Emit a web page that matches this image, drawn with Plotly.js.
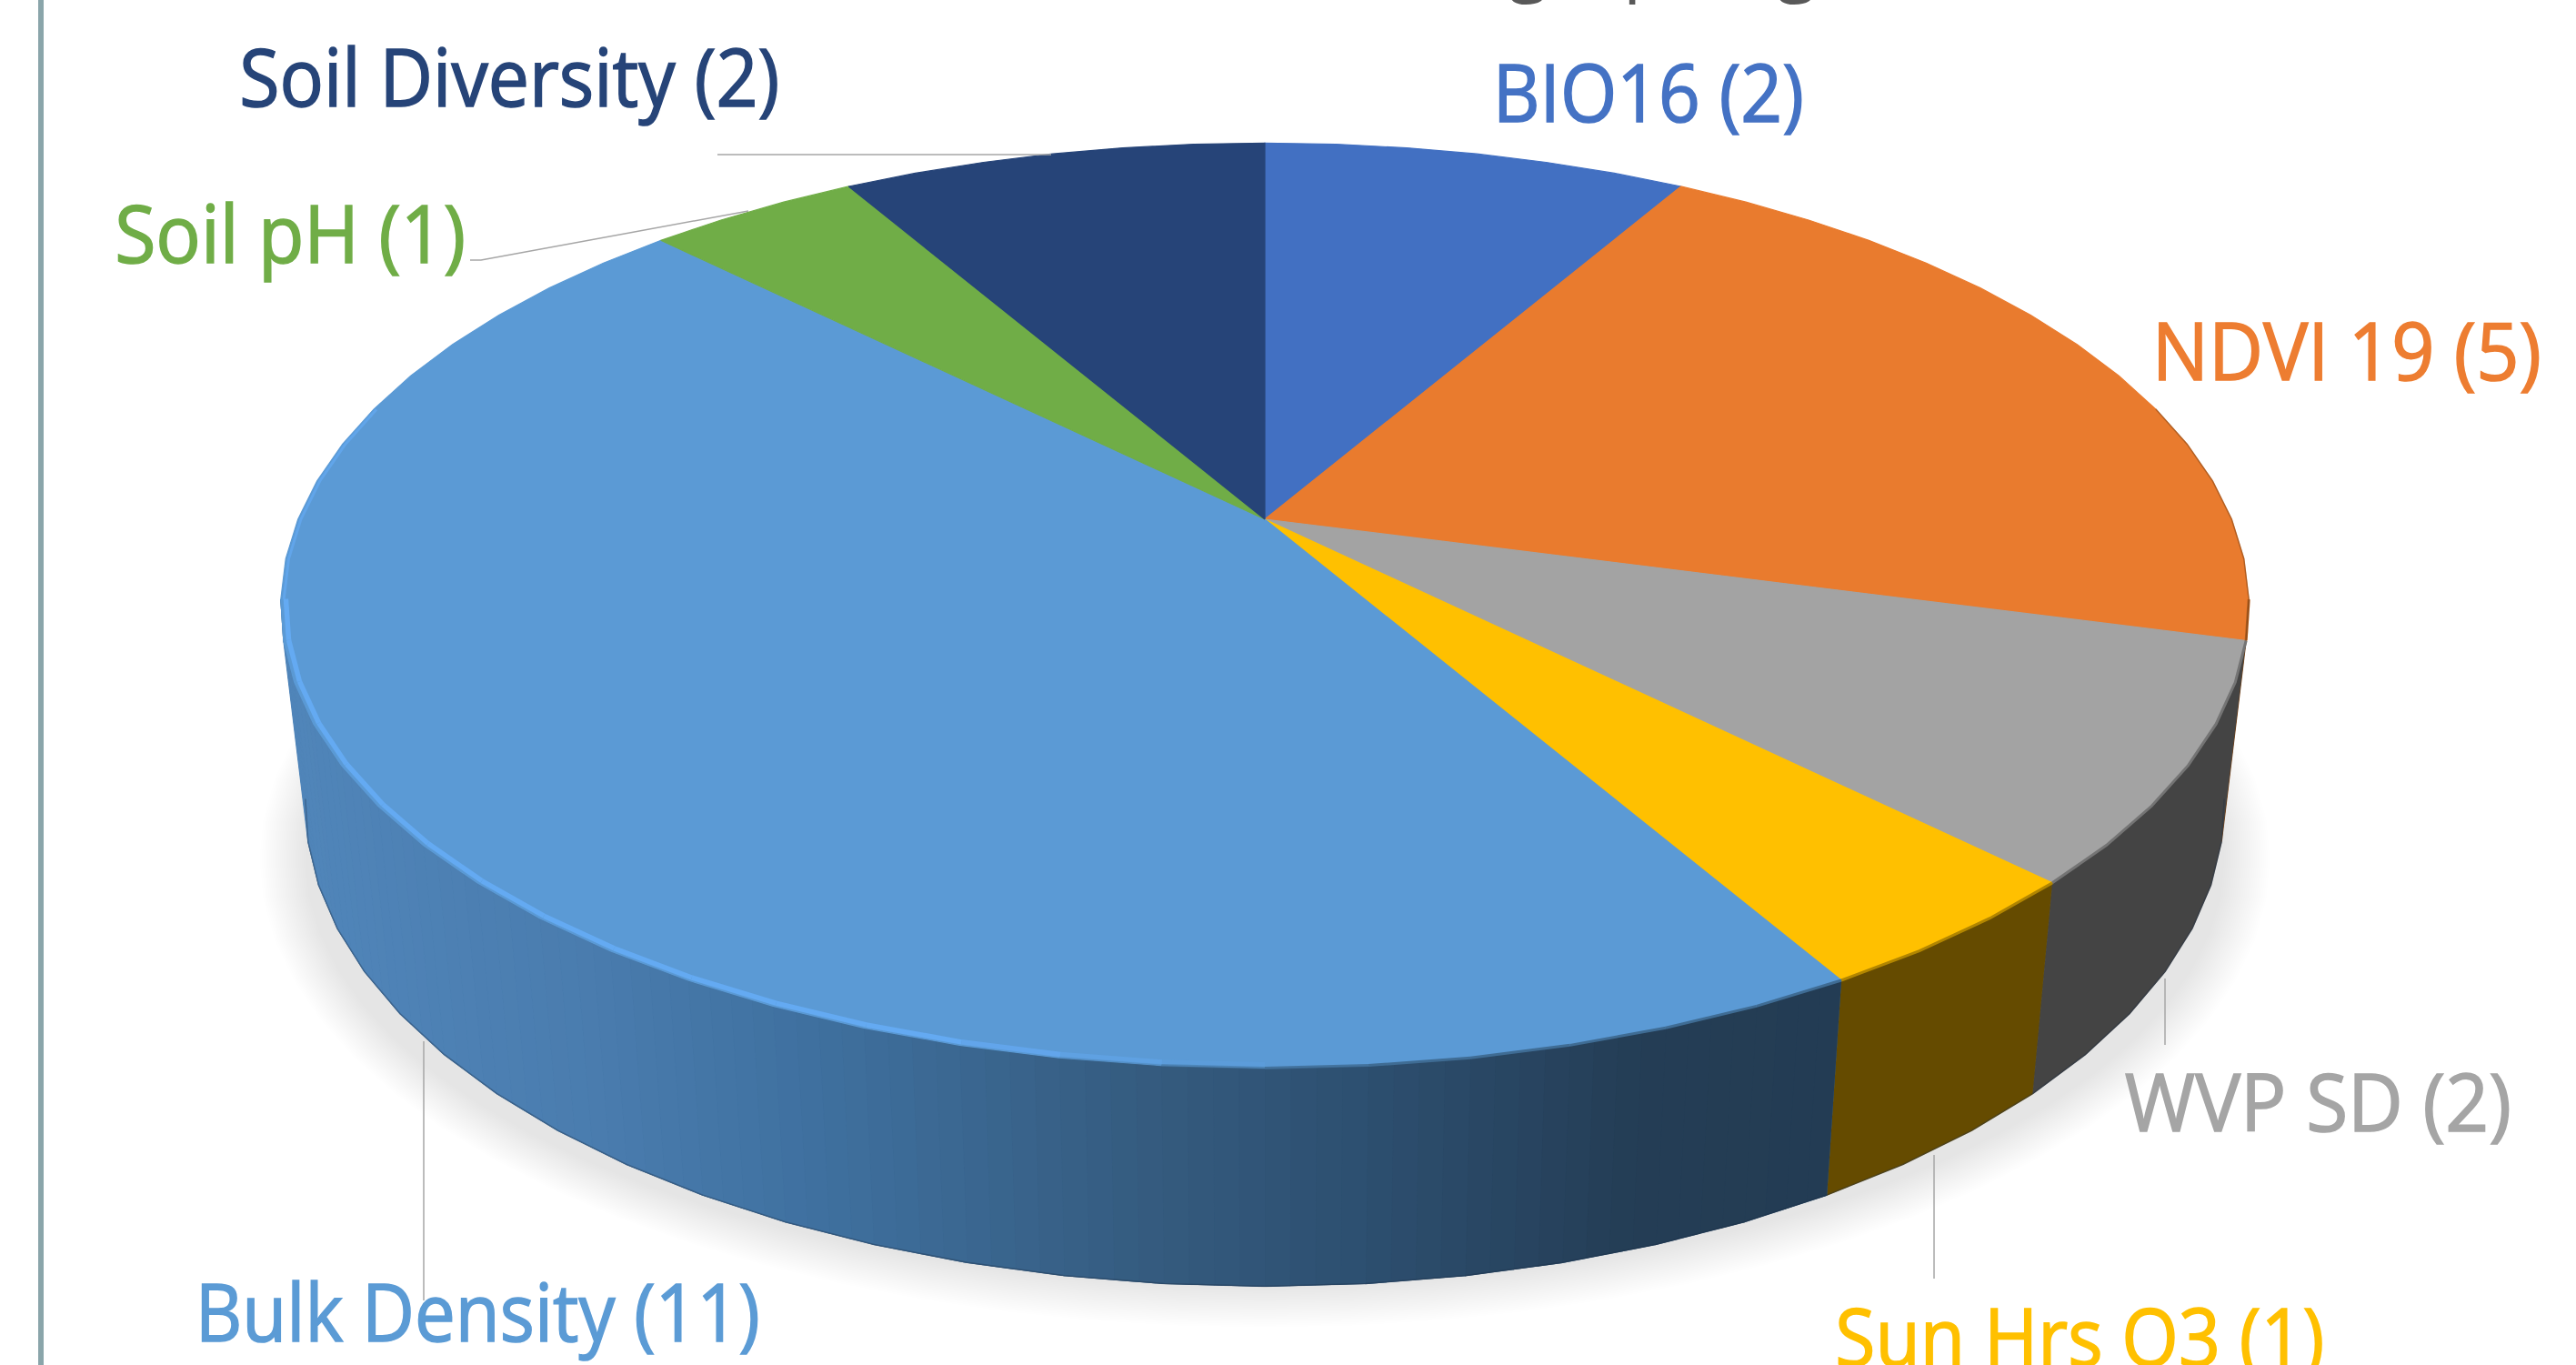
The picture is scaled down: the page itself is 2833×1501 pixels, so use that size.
<!DOCTYPE html>
<html><head><meta charset="utf-8"><script src="https://cdn.plot.ly/plotly-3.0.1.min.js"></script>
<style>html,body{margin:0;padding:0;background:#fff}#c{width:2833px;height:1501px}</style></head>
<body><div id="c"></div><script>
const categories=["BIO16","NDVI 19","WVP SD","Sun Hrs Q3","Bulk Density","Soil pH","Soil Diversity"];
const counts=[2,5,2,1,11,1,2];
const sliceColors=["#4270c2","#e97b2e","#a3a3a3","#ffc000","#5b9ad5","#70ad47","#264478"];
const labelColors=["#4472c4","#ed7d31","#a5a5a5","#ffc000","#5b9bd5","#70ad47","#264478"];
const wallColors=["#2a4476","#7a4212","#444444","#654b00",null,"#44692b","#172a4a"];
const labelLeft=[1642,2367,2337,2018,214,126,263];
const labelRight=[1984,2795,2762,2556,835,512,857];
const labelBase=[132,416,1242,1500,1473,287,115];
const labelSize=[88,88,88,88,88,88,88];
const leaders=[null,null,[[2381,1076],[2381,1149]],[[2127,1270],[2127,1406]],[[466,1145],[466,1430]],[[517,286],[529,286],[823,232]],[[789,170],[1156,170]]];
const titleBits=["g","p","g"],titleX=[1658,1784,1953];

const cx=1391,y0=571,k=0.1865,A=1063.3,B=490.9,STEP=5;
function rimTop(t,r=1){const a=t*Math.PI/180,u=r*Math.sin(a),v=-r*Math.cos(a),w=1-k*v;return [cx+A*u/w,y0+B*v/w];}
function rimBot(t){const p=rimTop(t);return [cx+0.975*(p[0]-cx),1415+1.04*(p[1]-1175)];}
function mix(a,b,f){const h=s=>[1,3,5].map(i=>parseInt(s.substr(i,2),16));const x=h(a),y=h(b);return "rgb("+x.map((c,i)=>Math.round(c+(y[i]-c)*f)).join(",")+")";}
const gx=[335,650,900,1250,1500,1800,2100],gc=["#5085b9","#4a7cae","#3f709f","#355c80","#2d4f70","#243d55","#233c53"];
function grad(x){if(x<=gx[0])return mix(gc[0],gc[0],0);for(let i=1;i<gx.length;i++)if(x<=gx[i])return mix(gc[i-1],gc[i],(x-gx[i-1])/(gx[i]-gx[i-1]));return mix(gc[6],gc[6],0);}
function poly(pts,color,name,opacity){return {type:"scatter",mode:"lines",x:pts.map(p=>p[0]),y:pts.map(p=>p[1]),fill:"toself",fillcolor:color,line:{color:color,width:opacity?0:1.2},opacity:opacity||1,name:name||"",hoverinfo:"skip",showlegend:false};}
function seg(pts,color,width,opacity){return {type:"scatter",mode:"lines",x:pts.map(p=>p[0]),y:pts.map(p=>p[1]),line:{color:color,width:width,simplify:false},opacity:opacity==null?1:opacity,hoverinfo:"skip",showlegend:false};}

const total=counts.reduce((a,b)=>a+b,0);
let starts=[],c0=0;counts.forEach(v=>{starts.push(c0/total*360);c0+=v;});
const ends=starts.map((s,i)=>s+counts[i]/total*360);
const traces=[];

// soft ground shadow
const nS=26;
for(let i=0;i<nS;i++){const m=1-i/(nS-1),g=[];
  for(let t=0;t<360;t+=5){const a=t*Math.PI/180;g.push([1391+(1056+50*m)*Math.sin(a),945+(470+45*m)*Math.cos(a)]);}
  traces.push(poly(g,"#000000","shadow",0.0048));}

// side walls (front half only)
const WALL0=100,WALL1=260;
categories.forEach((n,i)=>{
  const a=Math.max(starts[i],WALL0),b=Math.min(ends[i],WALL1);if(a>=b)return;
  const tp=[],bt=[];for(let t=a;t<=b;t+=STEP){tp.push(rimTop(t));bt.unshift(rimBot(t));}
  traces.push(poly(tp.concat(bt),wallColors[i]||"#3a6488",n+" side"));
  if(wallColors[i])return;
  for(let t=a;t<b;t+=STEP){
    const sub=4;for(let j=0;j<sub;j++){
      const l=(p,q,f)=>[p[0]+(q[0]-p[0])*f,p[1]+(q[1]-p[1])*f];
      const t1=rimTop(t),t2=rimTop(t+STEP),b1=rimBot(t),b2=rimBot(t+STEP);
      const q=[l(t1,t2,j/sub),l(t1,t2,(j+1)/sub),l(b1,b2,(j+1)/sub),l(b1,b2,j/sub)];
      traces.push(poly(q,grad((q[0][0]+q[1][0]+q[2][0]+q[3][0])/4),n+" side"));
    }
  }
});
// thin dark foot on the wall
{const f=[];for(let t=100;t<=260;t+=5)f.push(rimBot(t));traces.push(seg(f,"#1c2f44",1.5,0.35));}

// top faces
categories.forEach((n,i)=>{
  const pts=[[cx,y0]];for(let t=starts[i];t<ends[i]+0.01;t+=STEP)pts.push(rimTop(t));pts.push([cx,y0]);
  traces.push(poly(pts,sliceColors[i],n));
});

// bevel on the rim
categories.forEach((n,i)=>{
  const a=Math.max(starts[i],WALL0),b=Math.min(ends[i],WALL1);if(a>=b)return;
  if(wallColors[i]){const p=[];for(let t=a;t<=b;t+=STEP)p.push(rimTop(t));traces.push(seg(p,mix(sliceColors[i],wallColors[i],0.5),3));return;}
  for(let t=a;t<b;t+=STEP){
    const m=rimTop(t+STEP/2,1),x=m[0];
    const f=Math.min(1,Math.max(0,(x-1150)/350));
    traces.push(seg([rimTop(t),rimTop(t+STEP)],mix("#5b9bd5","#233c53",0.5),3,f));
    traces.push(seg([rimTop(t,0.995),rimTop(t+STEP,0.995)],"#64aaf2",5.5,1-Math.min(1,Math.max(0,(x-1000)/400))));
  }
});
{const p=[];for(let t=260;t<=285;t+=5)p.push(rimTop(t,0.997));traces.push(seg(p,"#64aaf2",3,0.7));}
{const p=[];for(let t=75;t<=105;t+=5)p.push(rimTop(t));traces.push(seg(p,"#6e3a10",1.5,0.45));}

// leader lines
leaders.forEach(l=>{if(l)traces.push(seg(l,"#a6a6a6",1.5));});

const annotations=categories.map((n,i)=>({x:(labelLeft[i]+labelRight[i])/2,y:labelBase[i],xref:"x",yref:"y",xanchor:"center",yanchor:"bottom",yshift:-29,showarrow:false,borderpad:0,
  text:n+" ("+counts[i]+")",font:{family:"Open Sans",size:labelSize[i],color:labelColors[i]}}));
titleBits.forEach((c,i)=>annotations.push({x:titleX[i],y:10,xref:"x",yref:"y",xanchor:"left",yanchor:"bottom",showarrow:false,borderpad:0,text:c,font:{family:"Open Sans",size:80,color:"#595959"}}));

const layout={width:2833,height:1501,margin:{l:0,r:0,t:0,b:0},paper_bgcolor:"#fff",plot_bgcolor:"#fff",showlegend:false,hovermode:false,
 xaxis:{range:[0,2833],visible:false,fixedrange:true},yaxis:{range:[1501,0],visible:false,fixedrange:true},annotations,
 shapes:[{type:"line",xref:"x",yref:"y",x0:45,x1:45,y0:0,y1:1501,line:{color:"#8aa5aa",width:6}}]};
Plotly.newPlot("c",traces,layout,{staticPlot:true,displayModeBar:false}).then(gd=>{
  gd.querySelectorAll(".annotation-text").forEach((el,i)=>{
    if(i>=categories.length)return;
    el.setAttribute("textLength",labelRight[i]-labelLeft[i]);
    el.setAttribute("lengthAdjust","spacingAndGlyphs");
    el.style.stroke=labelColors[i];el.style.strokeWidth="1.6px";
  });
});
</script></body></html>
